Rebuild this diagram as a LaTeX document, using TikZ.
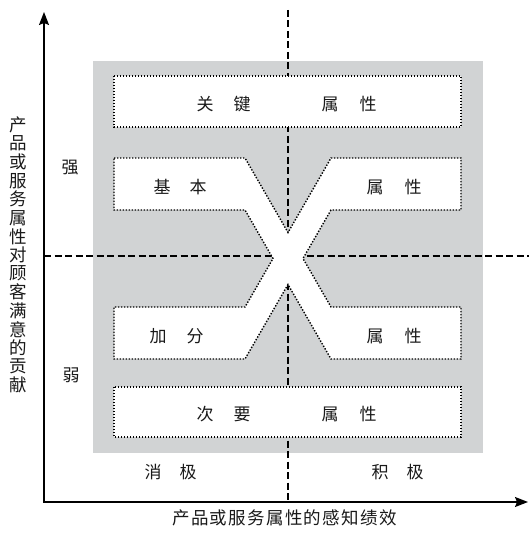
\documentclass[tikz,border=0pt]{standalone}
\usepackage{fontspec}
\newfontfamily\cjk{Noto Sans CJK SC}
\usetikzlibrary{arrows.meta}
\definecolor{panelgray}{RGB}{209,211,212}
\begin{document}
\begin{tikzpicture}[x=1pt,y=-1pt,
  lab/.style={font=\cjk\fontsize{17}{17}\selectfont, inner sep=0pt, text=black!90},
  axlab/.style={font=\cjk\fontsize{17.5}{17.5}\selectfont, inner sep=0pt, text=black!90},
  boxlab/.style={font=\cjk\fontsize{17}{17}\selectfont, inner sep=0pt, text=black!90},
  dotbox/.style={fill=white, draw=black, line width=1.4pt, dash pattern=on 1.4pt off 1.6pt},
  divider/.style={draw=black, line width=1.5pt, dash pattern=on 7pt off 3.5pt},
  axisline/.style={draw=black, line width=1.4pt}]
\useasboundingbox (0,0) rectangle (529,534);

% grey panel
\fill[panelgray] (93,61) rectangle (483,453);

% dividers
\coordinate (vtop) at (288,10);
\coordinate (vbot) at (288,502);
\coordinate (hl) at (44,256);
\coordinate (hr) at (529,256);
\draw[divider] (vtop) -- (vbot);
\draw[divider] (hl) -- (hr);

% boxes
\draw[dotbox] (114,76) rectangle (461,127);
\draw[dotbox] (114,387) rectangle (461,437);
\draw[dotbox] (114,158) -- (245,158) -- (288,232.5) -- (331,158) -- (461,158)
  -- (461,210) -- (331,210) -- (303,258.5) -- (331,307) -- (461,307)
  -- (461,359) -- (331,359) -- (288,284.5) -- (245,359) -- (114,359)
  -- (114,307) -- (245,307) -- (273,258.5) -- (245,210) -- (114,210) -- cycle;

% axes
\coordinate (ytip) at (44,12);
\coordinate (origin) at (44,502);
\coordinate (xtip) at (528,502);
\draw[axisline, {Stealth[length=13pt,width=10pt,inset=2pt]}-{Stealth[length=13pt,width=10pt,inset=2pt]}]
  (ytip) -- (origin) -- (xtip);

% box labels
\node[boxlab] (k1) at (205,104) {关};
\node[boxlab] (k2) at (242,104) {键};
\node[boxlab] (k3) at (330,104) {属};
\node[boxlab] (k4) at (368,104) {性};
\node[boxlab] (b1) at (162,187) {基};
\node[boxlab] (b2) at (198,187) {本};
\node[boxlab] (b3) at (375,187) {属};
\node[boxlab] (b4) at (413,187) {性};
\node[boxlab] (a1) at (158,336) {加};
\node[boxlab] (a2) at (195,336) {分};
\node[boxlab] (a3) at (375,336) {属};
\node[boxlab] (a4) at (413,336) {性};
\node[boxlab] (c1) at (205,414) {次};
\node[boxlab] (c2) at (242,414) {要};
\node[boxlab] (c3) at (330,414) {属};
\node[boxlab] (c4) at (368,414) {性};

% side labels
\node[lab] (strong) at (70,168) {强};
\node[lab] (weak) at (71,375) {弱};
\node[lab] (neg1) at (153,472) {消};
\node[lab] (neg2) at (188,472) {极};
\node[lab] (pos1) at (380,472) {积};
\node[lab] (pos2) at (415,472) {极};

% axis titles
\foreach \c [count=\i from 0] in {产,品,或,服,务,属,性,对,顾,客,满,意,的,贡,献}
  \node[axlab] (yt\i) at (18,125+\i*18.57) {\c};
\foreach \c [count=\i from 0] in {产,品,或,服,务,属,性,的,感,知,绩,效}
  \node[axlab] (xt\i) at (181+\i*18.8,518) {\c};
\end{tikzpicture}
\end{document}
